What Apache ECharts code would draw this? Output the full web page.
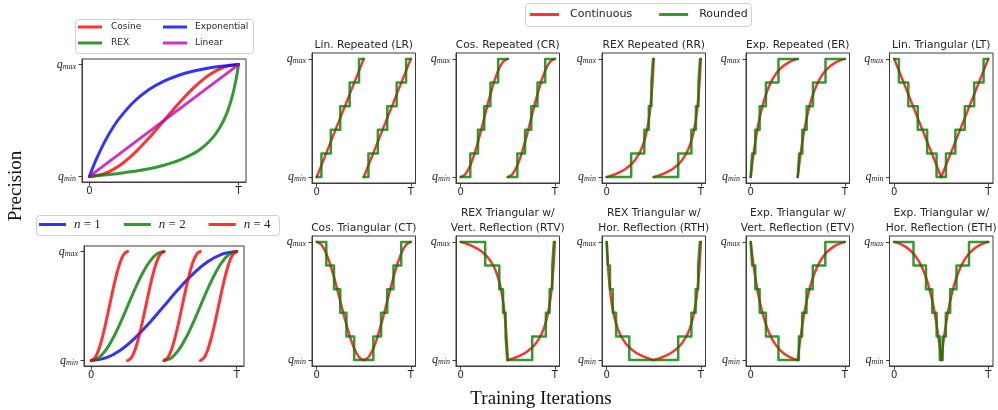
<!DOCTYPE html>
<html><head><meta charset="utf-8">
<script src="https://cdn.jsdelivr.net/npm/echarts@6/dist/echarts.min.js"></script>
<style>html,body{margin:0;padding:0;background:#fff}#c{width:998px;height:410px}</style>
</head><body><div id="c"></div>
<script>
// ---------------- tick labels ----------------
const X_TICK_VALUES = [0, 1];
const X_TICK_LABELS = ['0', 'T'];
const Y_TICK_VALUES = [0, 1];
const Y_TICK_SUBS = ['min', 'max'];

// ---------------- schedule shapes (x: fraction of the cycle, y: 0 = q_min, 1 = q_max) ----------------
const LIN_T = [0, 1];
const LIN_Y = [0, 1];
const COS_T = [0, 0.1, 0.2, 0.3, 0.4, 0.5, 0.6, 0.7, 0.8, 0.9, 1];
const COS_Y = [0, 0.024, 0.095, 0.206, 0.345, 0.5, 0.655, 0.794, 0.905, 0.976, 1];
const EXP_T = [0, 0.025, 0.05, 0.1, 0.15, 0.2, 0.3, 0.4, 0.5, 0.6, 0.7, 0.8, 0.9, 1];
const EXP_Y = [0, 0.087, 0.165, 0.304, 0.421, 0.519, 0.670, 0.777, 0.852, 0.905, 0.942, 0.969, 0.987, 1];
const REX_T = [0, 0.1, 0.2, 0.3, 0.4, 0.5, 0.6, 0.7, 0.75, 0.8, 0.85, 0.9, 0.93, 0.96, 0.98, 0.99, 1];
const REX_Y = [0, 0.012, 0.027, 0.046, 0.069, 0.1, 0.143, 0.206, 0.25, 0.308, 0.386, 0.5, 0.596, 0.727, 0.845, 0.917, 1];

// ---------------- left panels ----------------
const A_NAMES = ['Cosine', 'REX', 'Exponential', 'Linear'];
const B_NAMES = ['n = 1', 'n = 2', 'n = 4'];
const B_N1_CYCLES = [[0, 1]];
const B_N2_CYCLES = [[0, 0.5], [0.5, 1]];
const B_N4_CYCLES = [[0, 0.25], [0.25, 0.5], [0.5, 0.75], [0.75, 1]];

// ---------------- small panels ----------------
const PANEL_TITLES = [
  ['Lin. Repeated (LR)'], ['Cos. Repeated (CR)'], ['REX Repeated (RR)'], ['Exp. Repeated (ER)'], ['Lin. Triangular (LT)'],
  ['Cos. Triangular (CT)'], ['REX Triangular w/', 'Vert. Reflection (RTV)'], ['REX Triangular w/', 'Hor. Reflection (RTH)'],
  ['Exp. Triangular w/', 'Vert. Reflection (ETV)'], ['Exp. Triangular w/', 'Hor. Reflection (ETH)']
];
// continuous pieces: [shape, orientation, start, end]
const PANEL_PIECES = [
  [['lin', 'up', 0, 0.5], ['lin', 'up', 0.5, 1]],
  [['cos', 'up', 0, 0.5], ['cos', 'up', 0.5, 1]],
  [['rex', 'up', 0, 0.5], ['rex', 'up', 0.5, 1]],
  [['exp', 'up', 0, 0.5], ['exp', 'up', 0.5, 1]],
  [['lin', 'downV', 0, 0.5], ['lin', 'up', 0.5, 1]],
  [['cos', 'downV', 0, 0.5], ['cos', 'up', 0.5, 1]],
  [['rex', 'downV', 0, 0.5], ['rex', 'up', 0.5, 1]],
  [['rex', 'downH', 0, 0.5], ['rex', 'up', 0.5, 1]],
  [['exp', 'downV', 0, 0.5], ['exp', 'up', 0.5, 1]],
  [['exp', 'downH', 0, 0.5], ['exp', 'up', 0.5, 1]]
];
// rounded (quantised) steps: [x where level starts, level]
const LR_ROUNDED = [
  [[0, 0], [0.05, 0.2], [0.15, 0.4], [0.25, 0.6], [0.35, 0.8], [0.45, 1], [0.5, 1]],
  [[0.5, 0], [0.55, 0.2], [0.65, 0.4], [0.75, 0.6], [0.85, 0.8], [0.95, 1], [1, 1]]
];
const CR_ROUNDED = [
  [[0, 0], [0.102, 0.2], [0.184, 0.4], [0.25, 0.6], [0.316, 0.8], [0.398, 1], [0.5, 1]],
  [[0.5, 0], [0.602, 0.2], [0.684, 0.4], [0.75, 0.6], [0.816, 0.8], [0.898, 1], [1, 1]]
];
const RR_ROUNDED = [
  [[0, 0], [0.26, 0.2], [0.40, 0.4], [0.448, 0.6], [0.475, 0.8], [0.492, 1], [0.5, 1]],
  [[0.5, 0], [0.76, 0.2], [0.90, 0.4], [0.948, 0.6], [0.975, 0.8], [0.992, 1], [1, 1]]
];
const ER_ROUNDED = [
  [[0, 0], [0.015, 0.2], [0.049, 0.4], [0.095, 0.6], [0.162, 0.8], [0.295, 1], [0.5, 1]],
  [[0.5, 0], [0.515, 0.2], [0.549, 0.4], [0.595, 0.6], [0.662, 0.8], [0.795, 1], [1, 1]]
];
const LT_ROUNDED = [
  [[0, 1], [0.05, 0.8], [0.15, 0.6], [0.25, 0.4], [0.35, 0.2], [0.45, 0], [0.55, 0.2], [0.65, 0.4], [0.75, 0.6], [0.85, 0.8], [0.95, 1], [1, 1]]
];
const CT_ROUNDED = [
  [[0, 1], [0.102, 0.8], [0.184, 0.6], [0.25, 0.4], [0.316, 0.2], [0.398, 0], [0.602, 0.2], [0.684, 0.4], [0.75, 0.6], [0.816, 0.8], [0.898, 1], [1, 1]]
];
const RTV_ROUNDED = [
  [[0, 1], [0.26, 0.8], [0.41, 0.6], [0.45, 0.4], [0.477, 0.2], [0.495, 0], [0.76, 0.2], [0.905, 0.4], [0.945, 0.6], [0.973, 0.8], [0.99, 1], [1, 1]]
];
const RTH_ROUNDED = [
  [[0, 1], [0.012, 0.8], [0.035, 0.6], [0.065, 0.4], [0.1, 0.2], [0.24, 0], [0.76, 0.2], [0.9, 0.4], [0.945, 0.6], [0.972, 0.8], [0.99, 1], [1, 1]]
];
const ETV_ROUNDED = [
  [[0, 1], [0.015, 0.8], [0.049, 0.6], [0.095, 0.4], [0.162, 0.2], [0.295, 0], [0.512, 0.2], [0.547, 0.4], [0.593, 0.6], [0.66, 0.8], [0.793, 1], [1, 1]]
];
const ETH_ROUNDED = [
  [[0, 1], [0.205, 0.8], [0.338, 0.6], [0.405, 0.4], [0.451, 0.2], [0.485, 0], [0.515, 0.2], [0.549, 0.4], [0.595, 0.6], [0.662, 0.8], [0.795, 1], [1, 1]]
];
const PANEL_ROUNDED = [LR_ROUNDED, CR_ROUNDED, RR_ROUNDED, ER_ROUNDED, LT_ROUNDED,
  CT_ROUNDED, RTV_ROUNDED, RTH_ROUNDED, ETV_ROUNDED, ETH_ROUNDED];

// ---------------- styling / layout ----------------
const RED = 'rgba(255,0,0,0.8)', GREEN = 'rgba(0,128,0,0.8)', BLUE = 'rgba(0,0,255,0.8)', MAGENTA = 'rgba(191,0,191,0.8)';
const SANS = '"DejaVu Sans"', SERIF = '"Liberation Serif"';
const INK = '#262626', FRAME = '#3c3c3c';
const GRID_A = { left: 82, top: 59, width: 164, height: 123 };
const GRID_B = { left: 84, top: 246, width: 160, height: 120 };
const COL_LEFT = [312, 456, 602, 746, 889.5];
const ROW_TOP = [53, 236];
const PANEL_W = 103.5, PANEL_H = 130;
const SMOOTH = 0.35;

const SHAPES = { lin: [LIN_T, LIN_Y], cos: [COS_T, COS_Y], exp: [EXP_T, EXP_Y], rex: [REX_T, REX_Y] };
function zip(a, b) { return a.map((v, i) => [v, b[i]]); }
function piece(shape, mode, t0, t1) {
  const [U, Y] = SHAPES[shape];
  let pts = U.map((u, i) => {
    let y = Y[i], uu = u;
    if (mode === 'downV') y = 1 - y;
    if (mode === 'downH') uu = 1 - u;
    return [t0 + uu * (t1 - t0), y];
  });
  if (mode === 'downH') pts = pts.reverse();
  return pts;
}

const grids = [], xAxes = [], yAxes = [], series = [], graphics = [];
function addGrid(g) {
  const idx = grids.length;
  grids.push(Object.assign({ show: true, borderColor: FRAME, borderWidth: 1, backgroundColor: 'transparent', containLabel: false, outerBoundsMode: 'none' }, g));
  xAxes.push({
    gridIndex: idx, type: 'value', min: -0.05, max: 1.05,
    axisLine: { show: true, onZero: false, lineStyle: { color: FRAME, width: 1 } },
    splitLine: { show: false },
    axisTick: { show: true, customValues: X_TICK_VALUES, length: 3.5, lineStyle: { color: FRAME } },
    axisLabel: { show: true, customValues: X_TICK_VALUES, margin: 4, color: INK, fontFamily: SANS, fontSize: 10,
      formatter: v => X_TICK_LABELS[X_TICK_VALUES.indexOf(v)] }
  });
  yAxes.push({
    gridIndex: idx, type: 'value', min: -0.05, max: 1.05,
    axisLine: { show: true, onZero: false, lineStyle: { color: FRAME, width: 1 } },
    splitLine: { show: false },
    axisTick: { show: true, customValues: Y_TICK_VALUES, length: 3.5, lineStyle: { color: FRAME } },
    axisLabel: { show: true, customValues: Y_TICK_VALUES, margin: 6, color: INK,
      formatter: v => '{q|q}{s|' + Y_TICK_SUBS[Y_TICK_VALUES.indexOf(v)] + '}',
      rich: {
        q: { fontFamily: SERIF, fontStyle: 'italic', fontSize: 12, lineHeight: 12, verticalAlign: 'top', color: INK },
        s: { fontFamily: SERIF, fontStyle: 'italic', fontSize: 8, lineHeight: 8, verticalAlign: 'bottom', padding: [6, 0, 0, 0], color: INK }
      } }
  });
  return idx;
}
function addLine(gi, name, data, color, width, opts) {
  series.push(Object.assign({
    type: 'line', name, xAxisIndex: gi, yAxisIndex: gi, data,
    showSymbol: false, symbol: 'none', animation: false, silent: true,
    lineStyle: { color, width, cap: 'round', join: 'round' }, itemStyle: { color }
  }, opts || {}));
}

// panel A
const ga = addGrid(GRID_A);
addLine(ga, A_NAMES[0], zip(COS_T, COS_Y), RED, 3, { smooth: SMOOTH });
addLine(ga, A_NAMES[1], zip(REX_T, REX_Y), GREEN, 3, { smooth: SMOOTH });
addLine(ga, A_NAMES[2], zip(EXP_T, EXP_Y), BLUE, 3, { smooth: SMOOTH });
addLine(ga, A_NAMES[3], zip(LIN_T, LIN_Y), MAGENTA, 3);

// panel B
const gb = addGrid(GRID_B);
[[B_N1_CYCLES, BLUE], [B_N2_CYCLES, GREEN], [B_N4_CYCLES, RED]].forEach(([cycles, col], k) => {
  cycles.forEach(c => addLine(gb, B_NAMES[k], piece('cos', 'up', c[0], c[1]), col, 3, { smooth: SMOOTH }));
});

// small panels
PANEL_TITLES.forEach((title, p) => {
  const row = p < 5 ? 0 : 1, col = p % 5;
  const gi = addGrid({ left: COL_LEFT[col], top: ROW_TOP[row], width: PANEL_W, height: PANEL_H });
  PANEL_PIECES[p].forEach(pc => addLine(gi, 'Continuous', piece(pc[0], pc[1], pc[2], pc[3]), RED, 2.5,
    { smooth: pc[0] === 'lin' ? false : SMOOTH, z: 2 }));
  PANEL_ROUNDED[p].forEach(seg => addLine(gi, 'Rounded', seg, GREEN, 2.5, { step: 'end', z: 3 }));
  const cx = COL_LEFT[col] + PANEL_W / 2;
  const lines = title.length === 1 ? [row === 0 ? 45 : 228] : [213.5, 228];
  title.forEach((t, i) => graphics.push({ type: 'text', x: cx, y: lines[i], z: 5,
    style: { text: t, font: '10.7px ' + SANS, fill: INK, align: 'center', verticalAlign: 'middle', textAlign: 'center', textVerticalAlign: 'middle' } }));
});

// legend frames
[[75, 19, 178, 34], [36, 215, 243, 20], [525, 3, 226, 23]].forEach(r => graphics.push({
  type: 'rect', z: 0, shape: { x: r[0] + 0.5, y: r[1] + 0.5, width: r[2], height: r[3], r: 3 },
  style: { fill: 'rgba(255,255,255,0.8)', stroke: '#d0d0d0', lineWidth: 1 } }));

// axis titles
graphics.push({ type: 'text', x: 16, y: 186, rotation: Math.PI / 2, z: 5,
  style: { text: 'Precision', font: '19px ' + SERIF, fill: '#111', align: 'center', verticalAlign: 'middle', textAlign: 'center', textVerticalAlign: 'middle' } });
graphics.push({ type: 'text', x: 541, y: 399, z: 5,
  style: { text: 'Training Iterations', font: '19px ' + SERIF, fill: '#111', align: 'center', verticalAlign: 'middle', textAlign: 'center', textVerticalAlign: 'middle' } });

const legendBase = { icon: 'rect', itemHeight: 3, padding: 0, selectedMode: false, z: 10,
  itemStyle: { borderWidth: 0 }, inactiveColor: '#ccc' };
const legends = [
  Object.assign({}, legendBase, { data: [A_NAMES[0], A_NAMES[1]], orient: 'vertical', left: 78, top: 21, itemWidth: 24, itemGap: 4,
    textStyle: { fontFamily: SANS, fontSize: 9, color: INK, lineHeight: 12, padding: [0, 0, 0, 4] } }),
  Object.assign({}, legendBase, { data: [A_NAMES[2], A_NAMES[3]], orient: 'vertical', left: 163, top: 21, itemWidth: 24, itemGap: 4,
    textStyle: { fontFamily: SANS, fontSize: 9, color: INK, lineHeight: 12, padding: [0, 0, 0, 3] } }),
  Object.assign({}, legendBase, { data: B_NAMES, orient: 'horizontal', left: 39, top: 218, itemWidth: 27, itemGap: 23,
    formatter: n => '{i|n} = ' + n.slice(-1),
    textStyle: { fontFamily: SERIF, fontSize: 13, color: INK, lineHeight: 13, padding: [0, 0, 0, 3],
      rich: { i: { fontFamily: SERIF, fontStyle: 'italic', fontSize: 13, color: INK } } } }),
  Object.assign({}, legendBase, { data: ['Continuous', 'Rounded'], orient: 'horizontal', left: 530, top: 8, itemWidth: 29, itemGap: 27,
    textStyle: { fontFamily: SANS, fontSize: 11, color: INK, lineHeight: 13, padding: [0, 0, 0, 6] } })
];

const chart = echarts.init(document.getElementById('c'), null, { renderer: 'canvas' });
chart.setOption({
  animation: false, backgroundColor: '#fff',
  grid: grids, xAxis: xAxes, yAxis: yAxes, series, legend: legends,
  graphic: { elements: graphics }
});
</script></body></html>
